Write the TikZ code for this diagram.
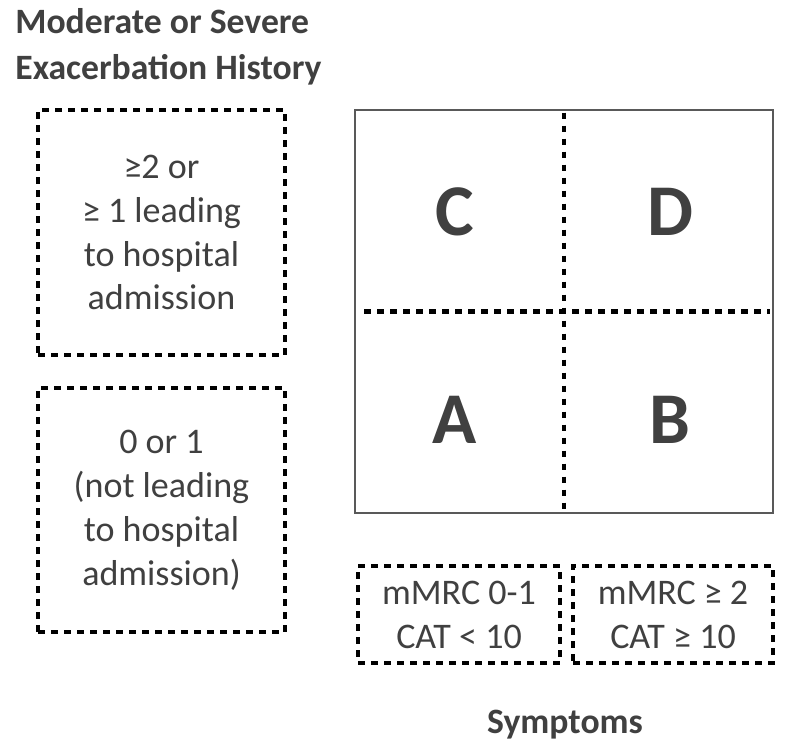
\documentclass[tikz,border=0pt]{standalone}
\usepackage{fontspec}
\setmainfont{Carlito}
\usepackage{tikz}
\usetikzlibrary{positioning}
\definecolor{GoldText}{HTML}{404040}
\definecolor{GoldFrame}{HTML}{595959}

\begin{document}
\begin{tikzpicture}[x=0.02cm, y=-0.02cm,
    dotbox/.style={draw=black, line width=2.3pt, dash pattern=on 3.8pt off 3.6pt,
      align=center, text=GoldText, font=\fontsize{20.5}{25}\selectfont, inner sep=0pt},
    quad/.style={text=GoldText, font=\fontsize{41.5}{45}\selectfont\bfseries},
    divider/.style={draw=black, line width=2.3pt, dash pattern=on 3.8pt off 3.6pt},
    heading/.style={text=GoldText, font=\fontsize{20.3}{26}\selectfont\bfseries, inner sep=0pt}]
  \useasboundingbox (0,0) rectangle (786,753);
  % axis titles
  \node[heading, anchor=north west, align=left] (hist) at (15,8)
    {Moderate or Severe\\Exacerbation History};
  \node[heading] (symp) at (565,725) {Symptoms};
  % exacerbation boxes
  \node[dotbox, minimum width=4.94cm, minimum height=4.9cm] (high) at (161.5,232.5)
    {{\char"2265}2 or\\{\char"2265} 1 leading\\to hospital\\admission};
  \node[dotbox, minimum width=4.94cm, minimum height=4.88cm] (low) at (161.5,510)
    {0 or 1\\(not leading\\to hospital\\admission)};
  % symptom boxes
  \node[dotbox, minimum width=4.04cm, minimum height=1.94cm] (few) at (459,614.5)
    {mMRC 0-1\\CAT {\char"003C} 10};
  \node[dotbox, minimum width=4cm, minimum height=1.94cm] (more) at (673,614.5)
    {mMRC {\char"2265} 2\\CAT {\char"2265} 10};
  % the grid
  \node[draw=GoldFrame, line width=1.1pt, minimum width=8.36cm, minimum height=8.06cm]
    (grid) at (564,311.5) {};
  \draw[divider] ([yshift=-2pt]grid.north) -- ([yshift=2pt]grid.south);
  \draw[divider] ([xshift=0.2cm]grid.west) -- ([xshift=-2pt]grid.east);
  \node[quad] (C) at (455,212) {C};
  \node[quad] (D) at (670,212) {D};
  \node[quad] (A) at (455,420) {A};
  \node[quad] (B) at (670,420) {B};
\end{tikzpicture}
\end{document}
